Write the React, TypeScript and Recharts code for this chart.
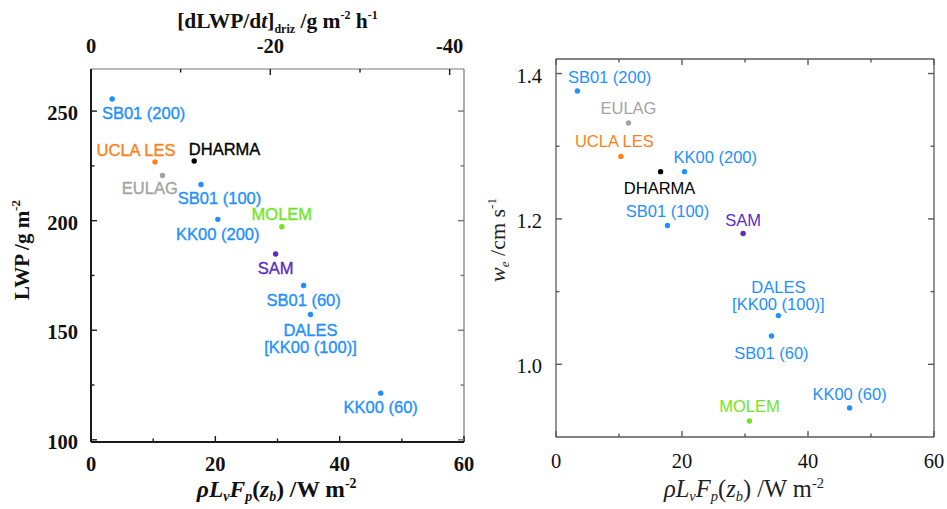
import { ScatterChart, Scatter, XAxis, YAxis, ReferenceLine } from 'recharts'

// models in the order they are listed
const models = [
  'SB01 (200)',
  'UCLA LES',
  'DHARMA',
  'EULAG',
  'SB01 (100)',
  'KK00 (200)',
  'MOLEM',
  'SAM',
  'SB01 (60)',
  'DALES',
  'KK00 (60)',
]
const modelLabels = [
  'SB01 (200)',
  'UCLA LES',
  'DHARMA',
  'EULAG',
  'SB01 (100)',
  'KK00 (200)',
  'MOLEM',
  'SAM',
  'SB01 (60)',
  'DALES\n[KK00 (100)]',
  'KK00 (60)',
]
// rho Lv Fp(zb), W m-2
const precipFlux = [3.4, 10.3, 16.6, 11.5, 17.7, 20.4, 30.7, 29.7, 34.2, 35.3, 46.6]
// LWP, g m-2
const lwp = [255.5, 226.8, 227.2, 220.6, 216.5, 200.6, 197.2, 184.8, 170.4, 157.2, 121.3]
// we, cm s-1
const entrainment = [1.376, 1.286, 1.265, 1.332, 1.191, 1.265, 0.922, 1.18, 1.039, 1.067, 0.94]

const fluxTicks = [0, 10, 20, 30, 40, 50, 60]
const fluxMajor = [0, 20, 40, 60]
const lwpTicks = [100, 125, 150, 175, 200, 225, 250]
const lwpMajor = [100, 150, 200, 250]
// drizzle tendency (g m-2 h-1, drawn as negative) on the top axis
const drizTicks = [0, 10, 20, 30, 40]
const drizMajor = [0, 20, 40]
const weTicks = [1.0, 1.1, 1.2, 1.3, 1.4]
const weMajor = [1.0, 1.2, 1.4]

// the top axis spans 0..-41.6 over the same width as flux 0..60
const drizPerFlux = 41.6 / 60
const drizTickPos = drizTicks.map((d) => d / drizPerFlux)
const drizMajorPos = drizMajor.map((d) => d / drizPerFlux)
const leftBottomTicks = Array.from(new Set([...fluxTicks, ...drizTickPos])).sort((a, b) => a - b)

const colors: Record<string, string> = {
  'SB01 (200)': '#1e90ff',
  'UCLA LES': '#ff7f1a',
  DHARMA: '#000000',
  EULAG: '#a3a3a3',
  'SB01 (100)': '#1e90ff',
  'KK00 (200)': '#1e90ff',
  MOLEM: '#6ee61e',
  SAM: '#5b2bc6',
  'SB01 (60)': '#1e90ff',
  DALES: '#1e90ff',
  'KK00 (60)': '#1e90ff',
}

// label placement relative to the dot (text centre)
const leftPos: Record<string, [number, number]> = {
  'SB01 (200)': [31.5, 14],
  'UCLA LES': [-19, -12.4],
  DHARMA: [30.4, -11.7],
  EULAG: [-12.7, 12.4],
  'SB01 (100)': [18.5, 14],
  'KK00 (200)': [0, 14.4],
  MOLEM: [0, -12.7],
  SAM: [0, 14],
  'SB01 (60)': [0, 14],
  DALES: [0, 15.7],
  'KK00 (60)': [0, 14],
}
const rightPos: Record<string, [number, number]> = {
  'SB01 (200)': [32.2, -14],
  'UCLA LES': [-6.5, -15.7],
  DHARMA: [-1, 16.6],
  EULAG: [0, -15],
  'SB01 (100)': [0, -14.3],
  'KK00 (200)': [30.8, -14.7],
  MOLEM: [0, -15],
  SAM: [0, -13.3],
  'SB01 (60)': [0, 16.6],
  DALES: [0, -29],
  'KK00 (60)': [0, -14],
}

const leftData = models.map((m, i) => ({ model: m, label: modelLabels[i], flux: precipFlux[i], lwp: lwp[i] }))
const rightData = models.map((m, i) => ({ model: m, label: modelLabels[i], flux: precipFlux[i], we: entrainment[i] }))

const SANS = '"Liberation Sans", Arial, sans-serif'
const SERIF = '"Liberation Serif", "Times New Roman", serif'

const makeShape = (pos: Record<string, [number, number]>, bold: boolean) => (props: any) => {
  const { cx, cy, payload } = props
  const c = colors[payload.model]
  const [dx, dy] = pos[payload.model]
  const lines: string[] = payload.label.split('\n')
  return (
    <g>
      <circle cx={cx} cy={cy} r={2.7} fill={c} />
      {lines.map((t, k) => (
        <text
          key={k}
          x={cx + dx}
          y={cy + dy + k * 17}
          textAnchor="middle"
          dominantBaseline="central"
          fill={c}
          stroke={bold ? c : 'none'}
          strokeWidth={bold ? 0.35 : 0}
          fontSize={16.5}
          fontFamily={SANS}
        >
          {t}
        </text>
      ))}
    </g>
  )
}

const has = (arr: number[], v: number) => arr.some((m) => Math.abs(m - v) < 1e-6)

type XTickOpts = {
  bottom: number[]
  bottomMajor: number[]
  top: number[]
  topMajor: number[]
  topLabels: boolean
  topFmt?: (v: number) => string
  plotH: number
  gapB: number
  gapT: number
  color: string
  topColor: string
  bold: boolean
}

// bottom axis tick; also draws the mirrored ticks on the top edge of the frame
function XTick(props: any) {
  const { x, y, payload } = props
  const o: XTickOpts = props.o
  const v = payload.value
  const font = { fontFamily: SERIF, fontSize: 20.5, fontWeight: o.bold ? 700 : 400, fill: '#111' }
  const out = []
  if (has(o.bottom, v)) {
    const major = has(o.bottomMajor, v)
    out.push(<line key="b" x1={x} y1={y} x2={x} y2={y - (major ? 6 : 3.5)} stroke={o.color} strokeWidth={1.4} />)
    if (major)
      out.push(
        <text key="bl" x={x} y={y + o.gapB} textAnchor="middle" dominantBaseline="central" {...font}>
          {String(v)}
        </text>,
      )
  }
  if (has(o.top, v)) {
    const major = has(o.topMajor, v)
    const yt = y - o.plotH
    out.push(<line key="t" x1={x} y1={yt} x2={x} y2={yt + (major ? 6 : 3.5)} stroke={o.topColor} strokeWidth={1.4} />)
    if (major && o.topLabels)
      out.push(
        <text key="tl" x={x} y={yt - o.gapT} textAnchor="middle" dominantBaseline="central" {...font}>
          {o.topFmt ? o.topFmt(v) : String(v)}
        </text>,
      )
  }
  return <g>{out}</g>
}

type YTickOpts = {
  ticks: number[]
  majors: number[]
  plotW: number
  gap: number
  color: string
  rightColor: string
  bold: boolean
  fmt?: (v: number) => string
}

// left axis tick; also draws the mirrored tick on the right edge of the frame
function YTick(props: any) {
  const { x, y, payload } = props
  const o: YTickOpts = props.o
  const v = payload.value
  const major = has(o.majors, v)
  const len = major ? 6 : 3.5
  const xr = x + o.plotW
  return (
    <g>
      <line x1={x} y1={y} x2={x + len} y2={y} stroke={o.color} strokeWidth={1.4} />
      <line x1={xr} y1={y} x2={xr - len} y2={y} stroke={o.rightColor} strokeWidth={1.4} />
      {major ? (
        <text
          x={x - o.gap}
          y={y + 2}
          textAnchor="end"
          dominantBaseline="central"
          fontFamily={SERIF}
          fontSize={20.5}
          fontWeight={o.bold ? 700 : 400}
          fill="#111"
        >
          {o.fmt ? o.fmt(v) : String(v)}
        </text>
      ) : null}
    </g>
  )
}

const fmtDriz = (v: number) => {
  const d = Math.round(v * drizPerFlux)
  return d === 0 ? '0' : '-' + d
}

function LeftPanel() {
  const dark = '#1a1a1a'
  const grey = '#777'
  const xo: XTickOpts = {
    bottom: fluxTicks,
    bottomMajor: fluxMajor,
    top: drizTickPos,
    topMajor: drizMajorPos,
    topLabels: true,
    topFmt: fmtDriz,
    plotH: 373,
    gapB: 22,
    gapT: 23,
    color: dark,
    topColor: dark,
    bold: true,
  }
  const yo: YTickOpts = { ticks: lwpTicks, majors: lwpMajor, plotW: 373, gap: 13, color: dark, rightColor: grey, bold: true }
  return (
    <ScatterChart width={480} height={509} margin={{ top: 69, right: 16, bottom: 0, left: 0 }}>
      <XAxis
        xAxisId="b"
        type="number"
        dataKey="flux"
        domain={[0, 60]}
        allowDataOverflow
        ticks={leftBottomTicks}
        interval={0}
        height={67}
        tickLine={false}
        tickSize={0}
        tickMargin={0}
        axisLine={{ stroke: dark, strokeWidth: 2 }}
        tick={(p: any) => <XTick {...p} o={xo} />}
      />
      <YAxis
        yAxisId="l"
        type="number"
        dataKey="lwp"
        domain={[99, 269.2]}
        allowDataOverflow
        ticks={lwpTicks}
        interval={0}
        width={91}
        tickLine={false}
        tickSize={0}
        tickMargin={0}
        axisLine={{ stroke: dark, strokeWidth: 2 }}
        tick={(p: any) => <YTick {...p} o={yo} />}
      />
      <ReferenceLine xAxisId="b" yAxisId="l" y={269.2} stroke={grey} strokeWidth={1.2} />
      <ReferenceLine xAxisId="b" yAxisId="l" x={60} stroke={grey} strokeWidth={1.2} />
      <Scatter
        data={leftData}
        xAxisId="b"
        yAxisId="l"
        dataKey="lwp"
        isAnimationActive={false}
        shape={makeShape(leftPos, true)}
      />
    </ScatterChart>
  )
}

function RightPanel() {
  const grey = '#5a5a5a'
  const xo: XTickOpts = {
    bottom: fluxTicks,
    bottomMajor: fluxMajor,
    top: fluxTicks,
    topMajor: fluxMajor,
    topLabels: false,
    plotH: 378,
    gapB: 24,
    gapT: 0,
    color: grey,
    topColor: grey,
    bold: false,
  }
  const yo: YTickOpts = {
    ticks: weTicks,
    majors: weMajor,
    plotW: 378,
    gap: 14,
    color: grey,
    rightColor: grey,
    bold: false,
    fmt: (v) => v.toFixed(1),
  }
  return (
    <ScatterChart width={467} height={509} margin={{ top: 59, right: 13, bottom: 0, left: 0 }}>
      <XAxis
        xAxisId="b"
        type="number"
        dataKey="flux"
        domain={[0, 60]}
        allowDataOverflow
        ticks={fluxTicks}
        interval={0}
        height={72}
        tickLine={false}
        tickSize={0}
        tickMargin={0}
        axisLine={{ stroke: grey, strokeWidth: 1.3 }}
        tick={(p: any) => <XTick {...p} o={xo} />}
      />
      <YAxis
        yAxisId="l"
        type="number"
        dataKey="we"
        domain={[0.9, 1.42]}
        allowDataOverflow
        ticks={weTicks}
        interval={0}
        width={76}
        tickLine={false}
        tickSize={0}
        tickMargin={0}
        axisLine={{ stroke: grey, strokeWidth: 1.3 }}
        tick={(p: any) => <YTick {...p} o={yo} />}
      />
      <ReferenceLine xAxisId="b" yAxisId="l" y={1.42} stroke={grey} strokeWidth={1.3} />
      <ReferenceLine xAxisId="b" yAxisId="l" x={60} stroke={grey} strokeWidth={1.3} />
      <Scatter
        data={rightData}
        xAxisId="b"
        yAxisId="l"
        dataKey="we"
        isAnimationActive={false}
        shape={makeShape(rightPos, false)}
      />
    </ScatterChart>
  )
}

function Titles() {
  return (
    <svg width={947} height={509} style={{ position: 'absolute', left: 0, top: 0, pointerEvents: 'none' }}>
      {/* top axis of left panel */}
      <text x={277.5} y={28} textAnchor="middle" fontFamily={SERIF} fontWeight={700} fontSize={21.5} fill="#111">
        [dLWP/d<tspan fontStyle="italic">t</tspan>]
        <tspan fontSize={12} dy={5}>driz</tspan>
        <tspan dy={-5}>  /g m</tspan>
        <tspan fontSize={12} dy={-9}>-2</tspan>
        <tspan dy={9}> h</tspan>
        <tspan fontSize={12} dy={-9}>-1</tspan>
      </text>
      {/* bottom left */}
      <text x={276.7} y={497} textAnchor="middle" fontFamily={SERIF} fontWeight={700} fontSize={23.5} fill="#111">
        <tspan fontStyle="italic">ρL</tspan>
        <tspan fontStyle="italic" fontSize={14} dy={4}>v</tspan>
        <tspan fontStyle="italic" dy={-4}>F</tspan>
        <tspan fontStyle="italic" fontSize={14} dy={4}>p</tspan>
        <tspan dy={-4}>(</tspan>
        <tspan fontStyle="italic">z</tspan>
        <tspan fontStyle="italic" fontSize={14} dy={4}>b</tspan>
        <tspan dy={-4}>) /W m</tspan>
        <tspan fontSize={14} dy={-9}>-2</tspan>
      </text>
      {/* bottom right */}
      <text x={744} y={497} textAnchor="middle" fontFamily={SERIF} fontSize={24.5} fill="#222">
        <tspan fontStyle="italic">ρL</tspan>
        <tspan fontStyle="italic" fontSize={14.5} dy={4}>v</tspan>
        <tspan fontStyle="italic" dy={-4}>F</tspan>
        <tspan fontStyle="italic" fontSize={14.5} dy={4}>p</tspan>
        <tspan dy={-4}>(</tspan>
        <tspan fontStyle="italic">z</tspan>
        <tspan fontStyle="italic" fontSize={14.5} dy={4}>b</tspan>
        <tspan dy={-4}>) /W m</tspan>
        <tspan fontSize={14.5} dy={-9}>-2</tspan>
      </text>
      {/* left y */}
      <text
        transform="translate(29, 250) rotate(-90)"
        textAnchor="middle"
        fontFamily={SERIF}
        fontWeight={700}
        fontSize={21}
        fill="#111"
      >
        LWP /g m<tspan fontSize={13} dy={-9}>-2</tspan>
      </text>
      {/* right y */}
      <text transform="translate(505, 240) rotate(-90)" textAnchor="middle" fontFamily={SERIF} fontSize={22} fill="#222">
        <tspan fontStyle="italic">w</tspan>
        <tspan fontStyle="italic" fontSize={13} dy={4}>e</tspan>
        <tspan dy={-4}> /cm s</tspan>
        <tspan fontSize={13} dy={-9}>-1</tspan>
      </text>
    </svg>
  )
}

export default function App() {
  return (
    <div style={{ position: 'absolute', left: 0, top: 0, width: 947, height: 509, background: '#fff' }}>
      <div style={{ position: 'absolute', left: 0, top: 0 }}>
        <LeftPanel />
      </div>
      <div style={{ position: 'absolute', left: 480, top: 0 }}>
        <RightPanel />
      </div>
      <Titles />
    </div>
  )
}
